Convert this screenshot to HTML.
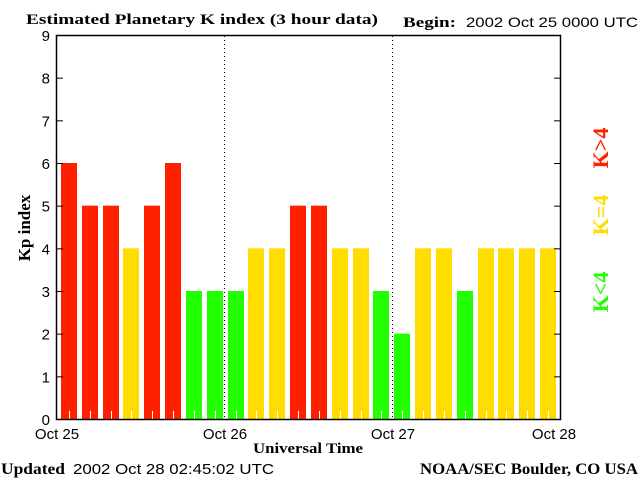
<!DOCTYPE html>
<html><head><meta charset="utf-8"><style>
html,body{margin:0;padding:0;background:#fff;width:640px;height:480px;overflow:hidden}
svg{display:block}
.s{font-family:"Liberation Sans",sans-serif;font-size:15px;fill:#000}
.b{font-family:"Liberation Serif",serif;font-weight:bold;font-size:15px;fill:#000}
</style></head><body>
<svg width="640" height="480" viewBox="0 0 640 480" xmlns="http://www.w3.org/2000/svg">
<text x="26" y="24" class="b" textLength="352" lengthAdjust="spacingAndGlyphs">Estimated Planetary K index (3 hour data)</text>
<text x="403" y="27" class="b" textLength="53" lengthAdjust="spacingAndGlyphs">Begin:</text>
<text x="466" y="27" class="s" style="font-size:14px" textLength="172" lengthAdjust="spacingAndGlyphs">2002 Oct 25 0000 UTC</text>
<g id="bars"></g>
<rect x="56.5" y="35.5" width="504" height="384" fill="none" stroke="#000" stroke-width="1.5"/>
<line x1="224.5" y1="36" x2="224.5" y2="419" stroke="#000" stroke-dasharray="1,3"/>
<line x1="392.5" y1="36" x2="392.5" y2="419" stroke="#000" stroke-dasharray="1,3"/>
<g id="ticks" stroke="#000"></g>
<g id="yl" class="s" text-anchor="end"></g>
<text x="57" y="439" class="s" text-anchor="middle">Oct 25</text>
<text x="225" y="439" class="s" text-anchor="middle">Oct 26</text>
<text x="393" y="439" class="s" text-anchor="middle">Oct 27</text>
<text x="554" y="439" class="s" text-anchor="middle">Oct 28</text>
<text x="308" y="453" class="b" text-anchor="middle" textLength="110" lengthAdjust="spacingAndGlyphs">Universal Time</text>
<text transform="translate(30,228) rotate(-90)" class="b" text-anchor="middle" style="font-size:17px">Kp index</text>
<text transform="translate(608,148) rotate(-90)" class="b" text-anchor="middle" style="font-size:22px;fill:#ff2000">K&gt;4</text>
<text transform="translate(608,215) rotate(-90)" class="b" text-anchor="middle" style="font-size:22px;fill:#ffdd00">K=4</text>
<text transform="translate(608,292) rotate(-90)" class="b" text-anchor="middle" style="font-size:22px;fill:#22ff00">K&lt;4</text>
<text x="1" y="474" class="b" style="font-size:16px" textLength="64" lengthAdjust="spacingAndGlyphs">Updated</text>
<text x="73" y="474" class="s" style="font-size:15px" textLength="201" lengthAdjust="spacingAndGlyphs">2002 Oct 28 02:45:02 UTC</text>
<text x="420" y="474" class="b" style="font-size:16px" textLength="218" lengthAdjust="spacingAndGlyphs">NOAA/SEC Boulder, CO USA</text>
</svg>
<script>
const d=[6,5,5,4,5,6,3,3,3,4,4,5,5,4,4,3,2,4,4,3,4,4,4,4];
const ns="http://www.w3.org/2000/svg";
const bars=document.getElementById('bars');
d.forEach((v,i)=>{
 const x=Math.round(61+20.83*i), top=419-v*42.667;
 const c=v>4?'#ff2000':v==4?'#ffdd00':'#22ff00';
 const r=document.createElementNS(ns,'rect');
 r.setAttribute('x',x);r.setAttribute('y',top);r.setAttribute('width',16);r.setAttribute('height',419-top);r.setAttribute('fill',c);
 bars.appendChild(r);
 const l=document.createElementNS(ns,'line');
 l.setAttribute('x1',x+8.5);l.setAttribute('x2',x+8.5);l.setAttribute('y1',411);l.setAttribute('y2',419);l.setAttribute('stroke','#fff');
 bars.appendChild(l);
});
const t=document.getElementById('ticks'),yl=document.getElementById('yl');
for(let k=0;k<=9;k++){
 const y=419-k*42.667;
 [[57,63],[554,560]].forEach(a=>{const l=document.createElementNS(ns,'line');l.setAttribute('x1',a[0]);l.setAttribute('x2',a[1]);l.setAttribute('y1',y+0.5);l.setAttribute('y2',y+0.5);t.appendChild(l);});
 const tx=document.createElementNS(ns,'text');tx.setAttribute('x',50);tx.setAttribute('y',y+6);tx.textContent=k;yl.appendChild(tx);
}
</script>
</body></html>
